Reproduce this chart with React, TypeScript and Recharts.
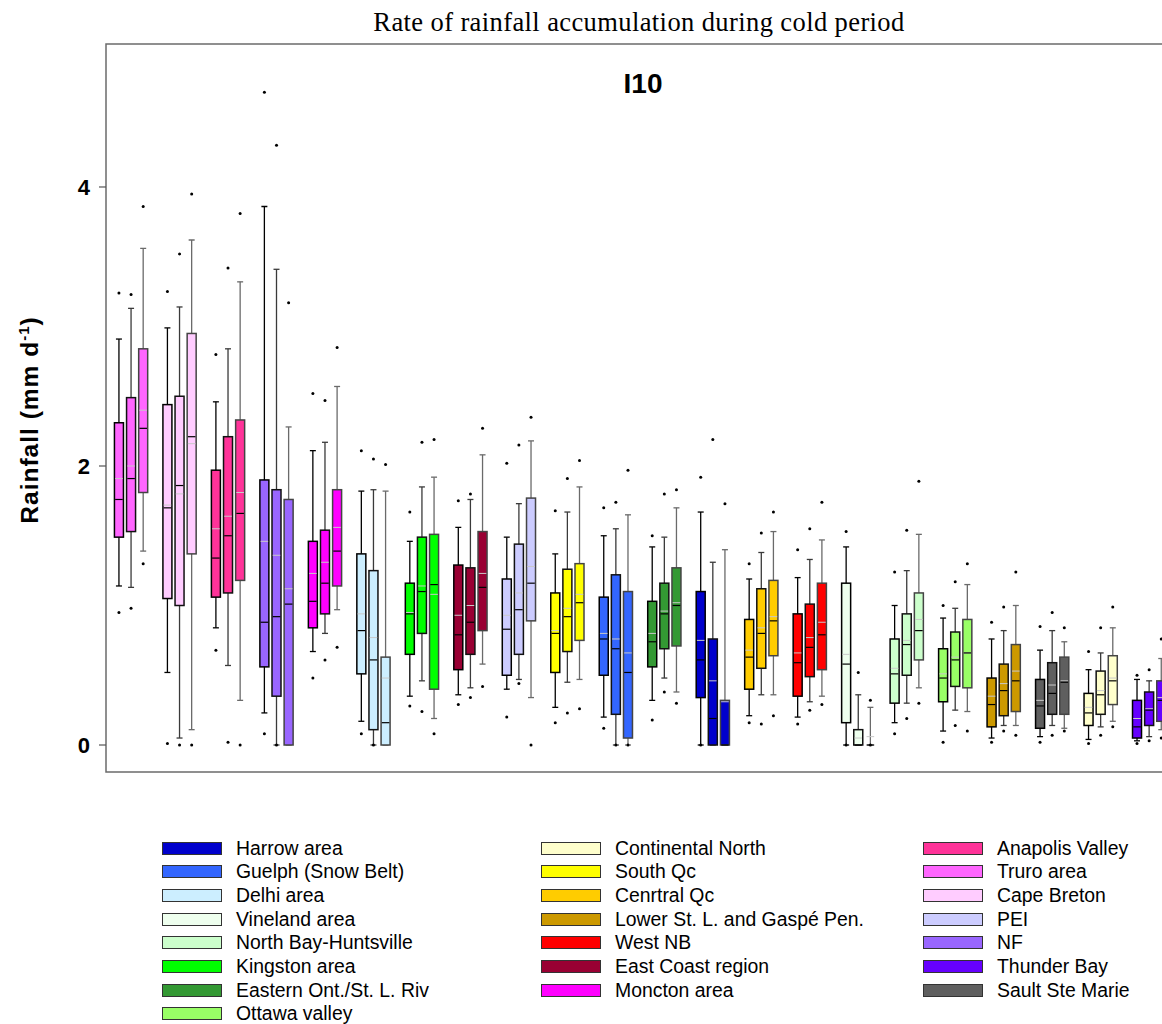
import { ComposedChart, Bar, XAxis, YAxis, ReferenceArea } from 'recharts';

// boxes are drawn in this order, three periods per region
const regions = [
  'Truro area', 'Cape Breton', 'Anapolis Valley', 'NF', 'Moncton area', 'Delhi area',
  'Kingston area', 'East Coast region', 'PEI', 'South Qc', 'Guelph (Snow Belt)',
  'Eastern Ont./St. L. Riv', 'Harrow area', 'Cenrtral Qc', 'West NB', 'Vineland area',
  'North Bay-Huntsville', 'Ottawa valley', 'Lower St. L. and Gaspé Pen.', 'Sault Ste Marie',
  'Continental North', 'Thunder Bay',
];

const regionColors = [
  '#FF66FF', '#FFCCFF', '#FF3399', '#9966FF', '#FF00FF', '#CCEEFF',
  '#00FF00', '#990033', '#CCCCFF', '#FFFF00', '#3366FF',
  '#339933', '#0000CC', '#FFCC00', '#FF0000', '#EEFFEE',
  '#CCFFCC', '#99FF66', '#CC9900', '#5F5F5F',
  '#FFFFCC', '#6600FF',
];

const lowWhisker = [
  [1.14, 1.13, 1.39], [0.52, 0.05, 0.11], [0.84, 0.57, 0.32], [0.23, 0, 0], [0.67, 0.8, 0.97],
  [0.17, 0, 0], [0.35, 0.46, 0.19], [0.36, 0.41, 0.58], [0.4, 0.47, 0.34], [0.27, 0.45, 0.47],
  [0.2, 0, 0], [0.32, 0.48, 0.38], [0, 0, 0], [0.21, 0.36, 0.36], [0.2, 0.31, 0.35],
  [0, 0, 0], [0.16, 0.3, 0.41], [0.1, 0.25, 0.24], [0.05, 0.14, 0.14], [0.06, 0.14, 0.12],
  [0.04, 0.13, 0.17], [0.03, 0.06, 0.11],
];

const q1 = [
  [1.49, 1.53, 1.81], [1.05, 1.0, 1.37], [1.06, 1.09, 1.18], [0.56, 0.35, 0], [0.84, 0.94, 1.14],
  [0.51, 0.11, 0], [0.65, 0.8, 0.4], [0.54, 0.65, 0.82], [0.5, 0.65, 0.89], [0.52, 0.67, 0.75],
  [0.5, 0.22, 0.05], [0.56, 0.69, 0.71], [0.34, 0, 0], [0.4, 0.55, 0.64], [0.35, 0.49, 0.54],
  [0.16, 0, 0], [0.3, 0.5, 0.61], [0.31, 0.42, 0.41], [0.13, 0.21, 0.24], [0.12, 0.22, 0.22],
  [0.14, 0.22, 0.29], [0.05, 0.14, 0.17],
];

const median = [
  [1.76, 1.91, 2.27], [1.7, 1.86, 2.21], [1.34, 1.5, 1.66], [0.88, 0.92, 1.01], [1.03, 1.16, 1.39],
  [0.82, 0.61, 0.16], [0.94, 1.1, 1.15], [0.79, 0.88, 1.13], [0.83, 0.97, 1.16], [0.8, 0.92, 1.02],
  [0.76, 0.69, 0.52], [0.74, 0.94, 1.0], [0.61, 0.19, 0], [0.63, 0.8, 0.89], [0.59, 0.7, 0.79],
  [0.58, 0, 0], [0.51, 0.72, 0.82], [0.48, 0.61, 0.66], [0.29, 0.39, 0.46], [0.28, 0.37, 0.45],
  [0.23, 0.36, 0.46], [0.13, 0.25, 0.32],
];

const mean = [
  [1.91, 2.0, 2.4], [1.72, 1.8, 2.16], [1.55, 1.64, 1.81], [1.46, 1.36, 1.12], [1.23, 1.31, 1.56],
  [0.94, 0.77, 0.48], [0.95, 1.14, 1.08], [0.93, 1.0, 1.23], [0.93, 1.09, 1.28], [0.82, 0.98, 1.08],
  [0.8, 0.76, 0.66], [0.8, 0.96, 1.02], [0.75, 0.46, 0.31], [0.68, 0.84, 0.92], [0.66, 0.77, 0.88],
  [0.65, 0.05, 0.06], [0.55, 0.75, 0.9], [0.51, 0.63, 0.66], [0.35, 0.44, 0.53], [0.32, 0.43, 0.46],
  [0.27, 0.39, 0.48], [0.19, 0.26, 0.34],
];

const q3 = [
  [2.31, 2.49, 2.84], [2.44, 2.5, 2.95], [1.97, 2.21, 2.33], [1.9, 1.83, 1.76], [1.46, 1.54, 1.83],
  [1.37, 1.25, 0.63], [1.16, 1.49, 1.51], [1.29, 1.27, 1.53], [1.19, 1.44, 1.77], [1.09, 1.26, 1.3],
  [1.06, 1.22, 1.1], [1.03, 1.16, 1.27], [1.1, 0.76, 0.32], [0.9, 1.12, 1.18], [0.94, 1.01, 1.16],
  [1.16, 0.11, 0], [0.76, 0.94, 1.09], [0.69, 0.81, 0.9], [0.48, 0.58, 0.72], [0.47, 0.59, 0.63],
  [0.37, 0.53, 0.64], [0.32, 0.38, 0.46],
];

const highWhisker = [
  [2.91, 3.13, 3.56], [2.99, 3.14, 3.62], [2.46, 2.84, 3.32], [3.86, 3.41, 2.28], [2.11, 2.17, 2.57],
  [1.82, 1.83, 1.82], [1.46, 1.85, 1.92], [1.56, 1.76, 2.08], [1.49, 1.73, 2.18], [1.37, 1.67, 1.85],
  [1.5, 1.55, 1.65], [1.42, 1.49, 1.7], [1.67, 1.31, 1.4], [1.19, 1.38, 1.53], [1.2, 1.33, 1.47],
  [1.42, 0.36, 0.27], [1.0, 1.25, 1.51], [0.91, 0.98, 1.15], [0.76, 0.82, 1.0], [0.68, 0.82, 0.74],
  [0.54, 0.66, 0.84], [0.47, 0.46, 0.62],
];

const outHigh = [
  [3.24, 3.23, 3.86], [3.25, 3.52, 3.95], [2.8, 3.42, 3.81], [4.68, 4.3, 3.17], [2.52, 2.47, 2.85],
  [2.11, 2.05, 2.01], [1.67, 2.17, 2.19], [1.75, 1.8, 2.27], [2.02, 2.15, 2.35], [1.68, 1.91, 2.04],
  [1.7, 1.74, 1.97], [1.5, 1.8, 1.83], [1.92, 2.19, 1.73], [1.3, 1.52, 1.67], [1.4, 1.55, 1.74],
  [1.53, 0.52, 0.32], [1.24, 1.54, 1.89], [1.0, 1.17, 1.3], [0.88, 0.99, 1.24], [0.85, 0.95, 0.84],
  [0.67, 0.84, 0.99], [0.5, 0.54, 0.76],
];

const outLow = [
  [0.95, 0.98, 1.3], [0.01, 0, 0], [0.68, 0.02, 0], [0.08, 0, null], [0.48, 0.61, 0.7],
  [0.08, 0, null], [0.28, 0.24, 0.08], [0.29, 0.34, 0.42], [0.2, 0.44, 0], [0.16, 0.23, 0.26],
  [0.12, 0, 0], [0.18, 0.38, 0.3], [0, null, null], [0.16, 0.15, 0.21], [0.15, 0.25, 0.29],
  [0, null, 0], [0.08, 0.19, 0.3], [0.02, 0.14, 0.1], [0.02, 0.1, 0.07], [0.02, 0.07, 0.1],
  [0.01, 0.07, 0.13], [0.01, 0.03, 0.05],
];

const yTicks = [0, 2, 4];
const yDomain: [number, number] = [-0.1935, 5.025];

const legendColumns = [
  ['Harrow area', 'Guelph (Snow Belt)', 'Delhi area', 'Vineland area', 'North Bay-Huntsville',
    'Kingston area', 'Eastern Ont./St. L. Riv', 'Ottawa valley'],
  ['Continental North', 'South Qc', 'Cenrtral Qc', 'Lower St. L. and Gaspé Pen.', 'West NB',
    'East Coast region', 'Moncton area'],
  ['Anapolis Valley', 'Truro area', 'Cape Breton', 'PEI', 'NF', 'Thunder Bay', 'Sault Ste Marie'],
];

const SANS = '"Liberation Sans", Arial, sans-serif';
const SERIF = '"Liberation Serif", "Times New Roman", serif';

const whiskerColors = ['#000000', '#3a3a3a', '#6a6a6a'];
const boxStrokes = ['#000000', '#111111', '#444444'];

type Row = {
  slot: number;
  g?: number;
  k?: number;
};

// one category per slot: three boxes then an empty gap
const rows: Row[] = [];
regions.forEach((_, g) => {
  for (let k = 0; k < 3; k++) rows.push({ slot: g * 4 + k + 1, g, k });
  rows.push({ slot: g * 4 + 4 });
});

function extentOf(g: number, k: number): [number, number] {
  const lo = Math.min(lowWhisker[g][k], outLow[g][k] ?? lowWhisker[g][k]);
  const hi = Math.max(highWhisker[g][k], outHigh[g][k] ?? highWhisker[g][k]);
  return [lo, hi];
}

function BoxShape(props: any) {
  const { x, y, width, height, payload } = props;
  if (!payload || payload.g === undefined || !Number.isFinite(y) || !Number.isFinite(height)) {
    return <g />;
  }
  const g: number = payload.g;
  const k: number = payload.k;
  const [lo, hi] = extentOf(g, k);
  const top = Math.min(y, y + height);
  const h = Math.abs(height);
  const py = (v: number) => top + ((hi - v) / (hi - lo)) * h;
  const cx = x + width / 2;
  const cap = 3;
  const wc = whiskerColors[k];
  const yq1 = py(q1[g][k]);
  const yq3 = py(q3[g][k]);
  const dots = [outHigh[g][k], outLow[g][k]].filter((v) => v !== null && v !== undefined) as number[];

  return (
    <g>
      <line x1={cx} x2={cx} y1={py(highWhisker[g][k])} y2={py(lowWhisker[g][k])} stroke={wc} strokeWidth={1.3} />
      <line x1={cx - cap} x2={cx + cap} y1={py(highWhisker[g][k])} y2={py(highWhisker[g][k])} stroke={wc} strokeWidth={1.3} />
      <line x1={cx - cap} x2={cx + cap} y1={py(lowWhisker[g][k])} y2={py(lowWhisker[g][k])} stroke={wc} strokeWidth={1.3} />
      <rect
        x={x}
        y={yq3}
        width={width}
        height={Math.max(0, yq1 - yq3)}
        fill={regionColors[g]}
        stroke={boxStrokes[k]}
        strokeWidth={1.5}
      />
      <line x1={x + 0.7} x2={x + width - 0.7} y1={py(mean[g][k])} y2={py(mean[g][k])} stroke="#c9c9c9" strokeWidth={1} />
      <line x1={x + 0.7} x2={x + width - 0.7} y1={py(median[g][k])} y2={py(median[g][k])} stroke="#000000" strokeWidth={1.2} />
      {dots.map((v, i) => (
        <circle key={i} cx={cx} cy={py(v)} r={1.5} fill="#000000" />
      ))}
    </g>
  );
}

function LegendBlock() {
  const colLeft = [162, 541, 923];
  return (
    <>
      {legendColumns.map((col, c) =>
        col.map((name, i) => (
          <div
            key={name}
            style={{
              position: 'absolute',
              left: colLeft[c],
              top: 848 + i * 23.7 - 12,
              height: 24,
              display: 'flex',
              alignItems: 'center',
              fontFamily: SANS,
              fontSize: 19.4,
              color: '#000000',
              whiteSpace: 'nowrap',
            }}
          >
            <span
              style={{
                width: 58,
                height: 11,
                backgroundColor: regionColors[regions.indexOf(name)],
                border: '1px solid #333333',
                marginRight: 14,
                flexShrink: 0,
              }}
            />
            {name}
          </div>
        ))
      )}
    </>
  );
}

export default function App() {
  return (
    <div
      style={{
        position: 'absolute',
        left: 0,
        top: 0,
        width: 1162,
        height: 1024,
        overflow: 'hidden',
        background: '#ffffff',
      }}
    >
      <ComposedChart
        width={1200}
        height={1024}
        data={rows}
        margin={{ top: 44, right: 21, bottom: 252, left: 0 }}
      >
        <XAxis dataKey="slot" type="category" hide padding={{ left: 6.44, right: 0 }} />
        {/* unpadded axis, used only to frame the whole plot area */}
        <XAxis xAxisId="frame" dataKey="slot" type="number" domain={[0, 1]} allowDataOverflow hide />
        <YAxis
          type="number"
          domain={yDomain}
          allowDataOverflow
          ticks={yTicks}
          width={106}
          tickSize={7}
          tickMargin={9}
          axisLine={false}
          tickLine={{ stroke: '#555555', strokeWidth: 1.2 }}
          tick={{ fontFamily: SANS, fontSize: 22, fontWeight: 700, fill: '#000000' }}
        />
        <ReferenceArea
          xAxisId="frame"
          x1={0}
          x2={1}
          y1={yDomain[0]}
          y2={yDomain[1]}
          fill="none"
          stroke="#6b6b6b"
          strokeWidth={1.5}
          ifOverflow="visible"
        />
        <Bar
          dataKey={(r: Row) => (r.g === undefined ? null : extentOf(r.g, r.k as number))}
          barSize={9}
          shape={BoxShape}
          isAnimationActive={false}
        />
      </ComposedChart>

      <svg
        width={1162}
        height={1024}
        style={{ position: 'absolute', left: 0, top: 0, pointerEvents: 'none' }}
      >
        <text x={639} y={31} textAnchor="middle" fontFamily={SERIF} fontSize={26.5} letterSpacing={0.4} fill="#000000">
          Rate of rainfall accumulation during cold period
        </text>
        <text x={643} y={93} textAnchor="middle" fontFamily={SANS} fontSize={28} fontWeight={700} fill="#000000">
          I10
        </text>
        <text
          transform="translate(38, 420) rotate(-90)"
          textAnchor="middle"
          fontFamily={SANS}
          fontSize={24.5}
          fontWeight={700}
          letterSpacing={1}
          fill="#000000"
        >
          Rainfall (mm d
          <tspan fontSize={15} dy={-9}>-1</tspan>
          <tspan dy={9}>)</tspan>
        </text>
      </svg>

      <LegendBlock />
    </div>
  );
}
